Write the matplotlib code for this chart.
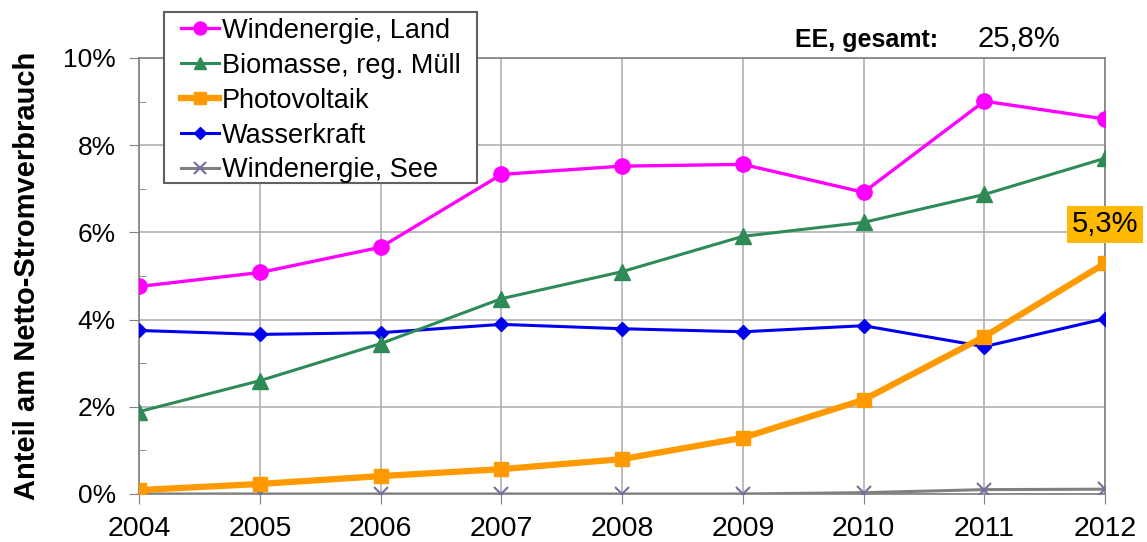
import matplotlib.pyplot as plt
from matplotlib.patches import Rectangle
from matplotlib.ticker import MultipleLocator, FuncFormatter

plt.rcParams['font.family'] = ['Liberation Sans', 'DejaVu Sans']

years = [2004, 2005, 2006, 2007, 2008, 2009, 2010, 2011, 2012]

# Anteil am Netto-Stromverbrauch in %
wind_land = [4.76, 5.08, 5.66, 7.33, 7.52, 7.56, 6.92, 9.01, 8.6]
biomasse = [1.89, 2.6, 3.45, 4.48, 5.1, 5.91, 6.23, 6.87, 7.7]
photovoltaik = [0.09, 0.23, 0.41, 0.57, 0.8, 1.29, 2.16, 3.61, 5.29]
wasserkraft = [3.75, 3.66, 3.7, 3.89, 3.79, 3.72, 3.86, 3.38, 4.02]
wind_see = [0.0, 0.0, 0.0, 0.0, 0.0, 0.0, 0.03, 0.1, 0.11]

ee_gesamt = "25,8%"
pv_label = "5,3%"

W, H = 1147, 542
fig = plt.figure(figsize=(W / 100, H / 100), dpi=100)
ax = fig.add_axes([0.1215, 0.0886, 0.8419, 0.8044])

ax.plot(years, wind_see, color="#808080", linewidth=2.2, marker="x",
        markersize=10, markeredgecolor="#7a6e9e", markeredgewidth=1.5,
        label="Windenergie, See", zorder=3)
ax.plot(years, wasserkraft, color="#0000ee", linewidth=2.2, marker="D",
        markersize=7.5, label="Wasserkraft", zorder=4)
ax.plot(years, photovoltaik, color="#ff9900", linewidth=4.5, marker="s",
        markersize=10, label="Photovoltaik", zorder=5)
ax.plot(years, biomasse, color="#2e8b57", linewidth=2.2, marker="^",
        markersize=11, label="Biomasse, reg. Müll", zorder=4)
ax.plot(years, wind_land, color="#ff00ff", linewidth=2.4, marker="o",
        markersize=11, label="Windenergie, Land", zorder=4)

ax.set_xlim(2004, 2012)
ax.set_ylim(0, 10)
ax.xaxis.set_major_locator(MultipleLocator(1))
ax.yaxis.set_major_locator(MultipleLocator(2))
ax.yaxis.set_minor_locator(MultipleLocator(1))
ax.yaxis.set_major_formatter(FuncFormatter(lambda v, p: f"{v:.0f}%"))
ax.grid(True, which="major", color="#b0b0b0", linewidth=1.2)
ax.tick_params(axis="y", which="major", labelsize=19, length=7,
               color="#808080", pad=10)
ax.tick_params(axis="y", which="minor", direction="in", length=5,
               color="#808080")
ax.tick_params(axis="x", direction="out", length=7, labelsize=20.5,
               color="#808080", pad=9)
for side in ["left", "right", "top", "bottom"]:
    ax.spines[side].set_color("#808080")
    ax.spines[side].set_linewidth(1.2)

ax.set_ylabel("Anteil am Netto-Stromverbrauch", fontsize=21,
              fontweight="bold", labelpad=16)

# legend frame drawn separately, legend itself without frame
frame = Rectangle((164 / W, 1 - 183 / H), 313 / W, 171 / H,
                  transform=fig.transFigure, facecolor="white",
                  edgecolor="#606060", linewidth=1.5, zorder=4)
fig.patches.append(frame)

handles, labels = ax.get_legend_handles_labels()
leg = fig.legend(handles[::-1], labels[::-1], loc="upper left",
                 bbox_to_anchor=(178 / W, 1 - 15 / H), fontsize=19.5,
                 frameon=False, handlelength=1.4, handletextpad=0.12,
                 labelspacing=0.33, borderpad=0.1, borderaxespad=0,
                 markerscale=0.85)
leg.set_zorder(5)

fig.text(0.693, 0.913, "EE, gesamt:", fontsize=18, fontweight="bold")
fig.text(0.852, 0.913, ee_gesamt, fontsize=21)

ax.annotate(pv_label, xy=(years[-1], photovoltaik[-1]), xytext=(0, 28),
            textcoords="offset points", ha="center", va="center",
            fontsize=21, zorder=6,
            bbox=dict(boxstyle="square,pad=0.15", facecolor="#ffb900",
                      edgecolor="none"),
            annotation_clip=False)

fig.savefig("out.png", dpi=100)
